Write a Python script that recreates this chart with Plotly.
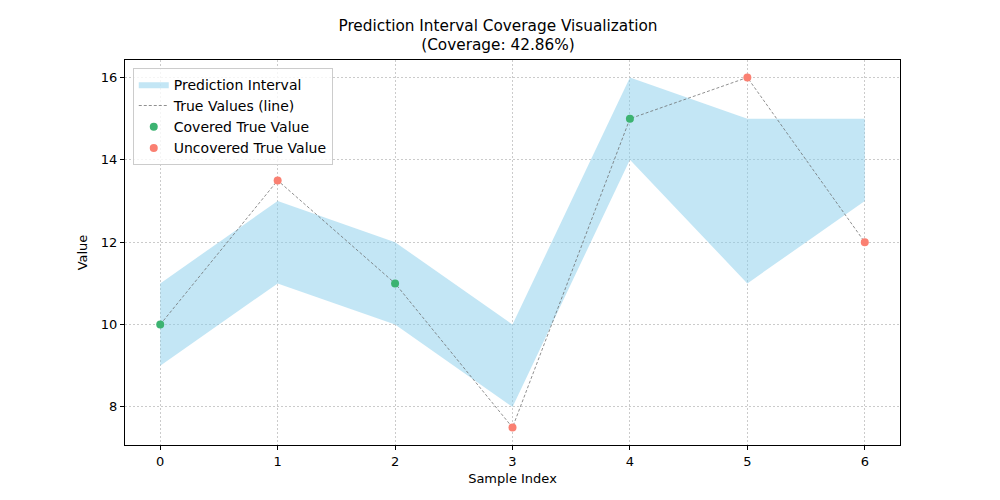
import plotly.graph_objects as go

# data
sample_idx = [0, 1, 2, 3, 4, 5, 6]
lower = [9, 11, 10, 8, 14, 11, 13]
upper = [11, 13, 12, 10, 16, 15, 15]
true_vals = [10, 13.5, 11, 7.5, 15, 16, 12]

covered = [lo <= t <= hi for t, lo, hi in zip(true_vals, lower, upper)]
coverage = 100 * sum(covered) / len(covered)

cov_x = [i for i, c in zip(sample_idx, covered) if c]
cov_y = [t for t, c in zip(true_vals, covered) if c]
unc_x = [i for i, c in zip(sample_idx, covered) if not c]
unc_y = [t for t, c in zip(true_vals, covered) if not c]

fig = go.Figure()

# interval band as a closed polygon
fig.add_scatter(x=sample_idx + sample_idx[::-1],
                y=upper + lower[::-1],
                fill="toself", fillcolor="rgba(135,206,235,0.5)",
                mode="lines", line=dict(width=0, color="rgba(135,206,235,0.5)"),
                name="Prediction Interval", hoverinfo="skip")

fig.add_scatter(x=sample_idx, y=true_vals, mode="lines",
                line=dict(color="rgba(100,100,100,0.9)", width=0.8, dash="3px,2px"),
                name="True Values (line)")

fig.add_scatter(x=cov_x, y=cov_y, mode="markers",
                marker=dict(color="mediumseagreen", size=8),
                name="Covered True Value")

fig.add_scatter(x=unc_x, y=unc_y, mode="markers",
                marker=dict(color="salmon", size=8),
                name="Uncovered True Value")

# the page body has an 8px margin, so margins are shifted by that much
fig.update_layout(
    width=1000, height=500,
    paper_bgcolor="white", plot_bgcolor="white",
    font=dict(family="DejaVu Sans", size=13, color="black"),
    margin=dict(l=117, r=108, t=52, b=63),
    title=dict(text=f"Prediction Interval Coverage Visualization<br>(Coverage: {coverage:.2f}%)",
               x=0.49, xanchor="center", y=0.955, yanchor="top",
               font=dict(size=15.3)),
    legend=dict(x=0.01, y=0.98, xanchor="left", yanchor="top",
                bgcolor="rgba(255,255,255,0.8)", bordercolor="#cccccc", borderwidth=1,
                font=dict(size=14), tracegroupgap=2),
)

grid_dash = "1.5px,2.5px"
fig.update_xaxes(range=[-0.3, 6.3], tickvals=sample_idx, title_text="Sample Index",
                 title_font=dict(size=13), tickfont=dict(size=13),
                 showline=True, linecolor="black", linewidth=1, mirror=True,
                 ticks="outside", ticklen=4, tickcolor="black",
                 showgrid=True, gridcolor="rgba(190,190,190,0.8)", griddash=grid_dash,
                 zeroline=False, title_standoff=6)
fig.update_yaxes(range=[7.075, 16.425], tickvals=[8, 10, 12, 14, 16], title_text="Value",
                 title_font=dict(size=13), tickfont=dict(size=13),
                 showline=True, linecolor="black", linewidth=1, mirror=True,
                 ticks="outside", ticklen=4, tickcolor="black",
                 showgrid=True, gridcolor="rgba(190,190,190,0.8)", griddash=grid_dash,
                 zeroline=False, title_standoff=10)

fig.write_html("out.html")
